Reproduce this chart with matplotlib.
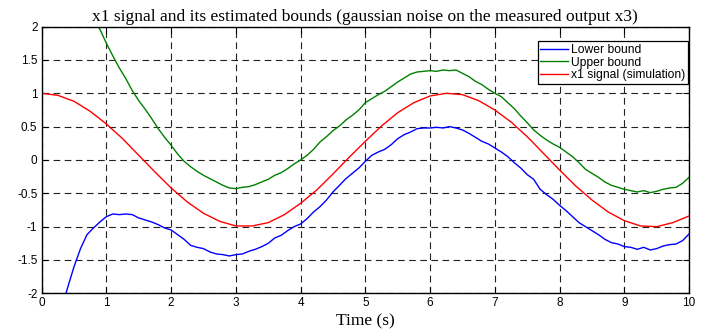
import numpy as np
import matplotlib
matplotlib.use("Agg")
import matplotlib.pyplot as plt
from matplotlib.ticker import FuncFormatter

# x1 signal (simulation), read at 0.25 s steps
t_sim = [i * 0.25 for i in range(41)]
x1_sim = [1.0, 0.97, 0.88, 0.73, 0.54, 0.32, 0.07, -0.18, -0.42, -0.63,
          -0.80, -0.92, -0.99, -0.99, -0.94, -0.82, -0.65, -0.45, -0.21, 0.04,
          0.28, 0.51, 0.71, 0.86, 0.96, 1.0, 0.98, 0.89, 0.75, 0.57,
          0.35, 0.10, -0.15, -0.39, -0.60, -0.78, -0.91, -0.99, -1.0, -0.94,
          -0.84]

# upper bound, 0.1 s steps from 0.8 s
t_up = [round(0.8 + 0.1 * i, 1) for i in range(93)]
upper = [2.10, 1.96, 1.75, 1.56, 1.38, 1.22, 1.04, 0.89, 0.76, 0.62,
         0.47, 0.34, 0.22, 0.09, -0.02, -0.10, -0.17, -0.23, -0.28, -0.33,
         -0.38, -0.42, -0.43, -0.41, -0.40, -0.37, -0.33, -0.29, -0.23, -0.19,
         -0.13, -0.06, 0.0, 0.07, 0.16, 0.27, 0.35, 0.44, 0.51, 0.60,
         0.67, 0.75, 0.86, 0.92, 0.98, 1.03, 1.10, 1.17, 1.23, 1.29,
         1.32, 1.33, 1.34, 1.33, 1.35, 1.34, 1.35, 1.30, 1.25, 1.18,
         1.13, 1.06, 1.00, 0.95, 0.86, 0.77, 0.66, 0.56, 0.45, 0.37,
         0.30, 0.24, 0.19, 0.12, 0.05, -0.04, -0.14, -0.20, -0.26, -0.33,
         -0.38, -0.41, -0.44, -0.46, -0.48, -0.46, -0.49, -0.47, -0.44, -0.42,
         -0.41, -0.35, -0.26]

# lower bound, 0.1 s steps from 0.3 s
t_low = [round(0.3 + 0.1 * i, 1) for i in range(98)]
lower = [-2.25, -1.92, -1.60, -1.33, -1.12, -1.02, -0.93, -0.85, -0.81, -0.82,
         -0.81, -0.82, -0.87, -0.90, -0.93, -0.97, -1.02, -1.05, -1.12, -1.19,
         -1.28, -1.31, -1.33, -1.38, -1.41, -1.42, -1.44, -1.42, -1.41, -1.37,
         -1.34, -1.30, -1.25, -1.17, -1.13, -1.06, -1.00, -0.96, -0.88, -0.78,
         -0.70, -0.60, -0.48, -0.38, -0.28, -0.20, -0.12, -0.02, 0.07, 0.12,
         0.16, 0.23, 0.32, 0.38, 0.42, 0.47, 0.48, 0.48, 0.49, 0.48,
         0.50, 0.48, 0.45, 0.40, 0.34, 0.28, 0.24, 0.18, 0.12, 0.05,
         -0.04, -0.12, -0.22, -0.29, -0.44, -0.52, -0.59, -0.68, -0.76, -0.85,
         -0.94, -1.00, -1.06, -1.12, -1.19, -1.24, -1.26, -1.30, -1.31, -1.34,
         -1.31, -1.35, -1.33, -1.29, -1.27, -1.26, -1.21, -1.11]

xticks = list(range(11))
yticks = [-2, -1.5, -1, -0.5, 0, 0.5, 1, 1.5, 2]

fig = plt.figure(figsize=(7.06, 3.29), dpi=100)
ax = fig.add_axes([0.059, 0.1085, 0.917, 0.8105])

ax.plot(t_low, lower, color="#0000ff", lw=1.0, label="Lower bound")
ax.plot(t_up, upper, color="#008000", lw=1.0, label="Upper bound")
ax.plot(t_sim, x1_sim, color="#ff0000", lw=1.0, label="x1 signal (simulation)")

ax.set_xlim(0, 10)
ax.set_ylim(-2, 2)
ax.set_xticks(xticks)
ax.set_yticks(yticks)
ax.yaxis.set_major_formatter(FuncFormatter(lambda v, p: ("%g" % v)))
ax.xaxis.set_major_formatter(FuncFormatter(lambda v, p: ("%g" % v)))
ax.tick_params(direction="in", top=True, right=True, length=4, width=0.8,
               labelsize=8.5, pad=3)
for lab in ax.get_xticklabels() + ax.get_yticklabels():
    lab.set_family("Liberation Sans")
ax.grid(True, color="#222222", linestyle=(0, (6, 4)), lw=0.8)
for s in ax.spines.values():
    s.set_linewidth(1.0)

ax.set_title("x1 signal and its estimated bounds (gaussian noise on the measured output x3)",
             family="Liberation Serif", fontsize=12.5, pad=4)
ax.set_xlabel("Time (s)", family="Liberation Serif", fontsize=12.5, labelpad=3)

leg = ax.legend(loc="upper right", bbox_to_anchor=(0.998, 0.945), borderaxespad=0,
                prop={"family": "Liberation Sans", "size": 8.7}, fancybox=False,
                framealpha=1, edgecolor="black", handlelength=2.3,
                handletextpad=0.25, labelspacing=0.07, borderpad=0.2)
leg.get_frame().set_linewidth(0.9)

fig.savefig("out.png", dpi=100)
